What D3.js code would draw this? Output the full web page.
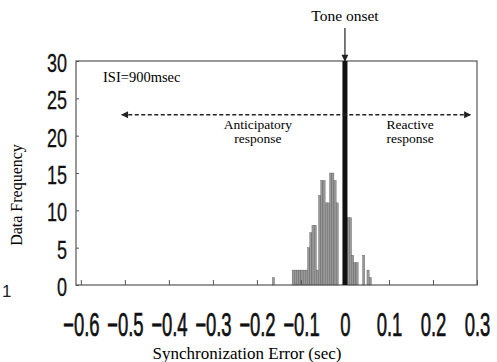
<!DOCTYPE html>
<html>
<head>
<meta charset="utf-8">
<script src="https://cdn.jsdelivr.net/npm/d3@7"></script>
<style>
  body { margin: 0; background: #fff; }
  svg { display: block; }
</style>
</head>
<body>
<div id="chart"></div>
<script>
// histogram bins (0.005 s wide), start of each bin and its count
const binStarts = [-0.165, -0.120, -0.115, -0.110, -0.105, -0.100, -0.095, -0.090, -0.085, -0.080,
  -0.075, -0.070, -0.065, -0.060, -0.055, -0.050, -0.045, -0.040, -0.035, -0.030,
  -0.025, -0.020, 0.005, 0.010, 0.015, 0.020, 0.025, 0.040, 0.050, 0.055];
const counts = [1, 2, 2, 2, 2, 2, 2, 2, 5, 7,
  8, 8, 2, 12, 14, 14, 11, 11, 15, 15,
  14, 11, 9, 9, 4, 3, 3, 4, 2, 1];
const binWidth = 0.005;

const xTicks = [-0.6, -0.5, -0.4, -0.3, -0.2, -0.1, 0, 0.1, 0.2, 0.3];
const yTicks = [0, 5, 10, 15, 20, 25, 30];

const width = 497, height = 362;
const margin = { top: 61, right: 20, bottom: 77, left: 76 };

const svg = d3.select('#chart').append('svg')
  .attr('width', width)
  .attr('height', height);

const x = d3.scaleLinear().domain([-0.611, 0.3]).range([margin.left, width - margin.right]);
const y = d3.scaleLinear().domain([0, 30]).range([height - margin.bottom, margin.top]);

const defs = svg.append('defs');
defs.append('marker')
  .attr('id', 'tri')
  .attr('viewBox', '0 0 10 10')
  .attr('refX', 9).attr('refY', 5)
  .attr('markerWidth', 9).attr('markerHeight', 7)
  .attr('markerUnits', 'userSpaceOnUse')
  .attr('orient', 'auto-start-reverse')
  .append('path').attr('d', 'M0,0L10,5L0,10Z').attr('fill', '#222');

// bars
svg.append('g').selectAll('rect')
  .data(binStarts.map((s, i) => ({ s, c: counts[i] })))
  .enter().append('rect')
  .attr('x', d => x(d.s))
  .attr('y', d => y(d.c))
  .attr('width', d => x(d.s + binWidth) - x(d.s))
  .attr('height', d => y(0) - y(d.c))
  .attr('fill', '#999')
  .attr('stroke', '#444')
  .attr('stroke-width', 0.3);

// frame
svg.append('rect')
  .attr('x', x(-0.611)).attr('y', y(30))
  .attr('width', x(0.3) - x(-0.611))
  .attr('height', y(0) - y(30))
  .attr('fill', 'none')
  .attr('stroke', '#555')
  .attr('stroke-width', 1.2);

// x axis (ticks inward)
const xAxis = svg.append('g')
  .attr('transform', `translate(0,${y(0)})`)
  .call(d3.axisBottom(x).tickValues(xTicks).tickSize(-5)
    .tickFormat(d => d === 0 ? '0' : (d < 0 ? '\u2212' : '') + Math.abs(d).toFixed(1)));
xAxis.select('.domain').remove();
xAxis.selectAll('line').attr('stroke', '#555');
xAxis.selectAll('text')
  .attr('y', 51).attr('dy', 0)
  .attr('transform', 'scale(0.56,1)')
  .attr('fill', '#111')
  .attr('stroke', '#111').attr('stroke-width', 0.7)
  .style('font-family', 'Liberation Sans, Arial, sans-serif')
  .style('font-size', '33px');

// y axis (ticks inward)
const yAxis = svg.append('g')
  .attr('transform', `translate(${x(-0.611)},0)`)
  .call(d3.axisLeft(y).tickValues(yTicks).tickSize(-3));
yAxis.select('.domain').remove();
yAxis.selectAll('line').attr('stroke', '#555');
yAxis.selectAll('text')
  .attr('x', -9 / 0.72).attr('dy', '0.42em')
  .attr('transform', 'scale(0.72,1)')
  .attr('fill', '#111')
  .attr('stroke', '#111').attr('stroke-width', 0.3)
  .style('font-family', 'Liberation Sans, Arial, sans-serif')
  .style('font-size', '25px');

// tone onset marker
svg.append('line')
  .attr('x1', x(0)).attr('x2', x(0))
  .attr('y1', y(30)).attr('y2', y(0))
  .attr('stroke', '#111').attr('stroke-width', 5);
svg.append('line')
  .attr('x1', x(0)).attr('x2', x(0))
  .attr('y1', 28).attr('y2', y(30))
  .attr('stroke', '#222').attr('stroke-width', 1.2)
  .attr('marker-end', 'url(#tri)');

const serif = 'Liberation Serif, Times New Roman, serif';
svg.append('text')
  .attr('x', x(0)).attr('y', 21)
  .attr('text-anchor', 'middle')
  .style('font-family', serif).style('font-size', '15.5px')
  .text('Tone onset');

svg.append('text')
  .attr('x', 103).attr('y', 82)
  .style('font-family', serif).style('font-size', '14.5px')
  .text('ISI=900msec');

// dashed double arrow
svg.append('line')
  .attr('x1', x(-0.507)).attr('x2', x(0.285))
  .attr('y1', y(22.8)).attr('y2', y(22.8))
  .attr('stroke', '#222').attr('stroke-width', 1.3)
  .attr('stroke-dasharray', '4,2.5')
  .attr('marker-start', 'url(#tri)')
  .attr('marker-end', 'url(#tri)');

const notes = [
  { cx: -0.198, lines: ['Anticipatory', 'response'] },
  { cx: 0.148, lines: ['Reactive', 'response'] }
];
notes.forEach(n => {
  n.lines.forEach((l, i) => {
    svg.append('text')
      .attr('text-anchor', 'middle')
      .attr('x', x(n.cx)).attr('y', 129 + i * 14)
      .style('font-family', serif).style('font-size', '13.5px')
      .text(l);
  });
});

// axis titles
svg.append('text')
  .attr('x', 247).attr('y', 359)
  .attr('text-anchor', 'middle')
  .style('font-family', serif).style('font-size', '17px')
  .text('Synchronization Error (sec)');

svg.append('text')
  .attr('transform', 'translate(22,195) rotate(-90)')
  .attr('text-anchor', 'middle')
  .style('font-family', serif).style('font-size', '16px')
  .text('Data Frequency');

// stray figure mark in the left margin
svg.append('text')
  .attr('x', 2).attr('y', 297)
  .style('font-family', 'Liberation Sans, Arial, sans-serif').style('font-size', '17px')
  .attr('fill', '#222')
  .text('1');
</script>
</body>
</html>
